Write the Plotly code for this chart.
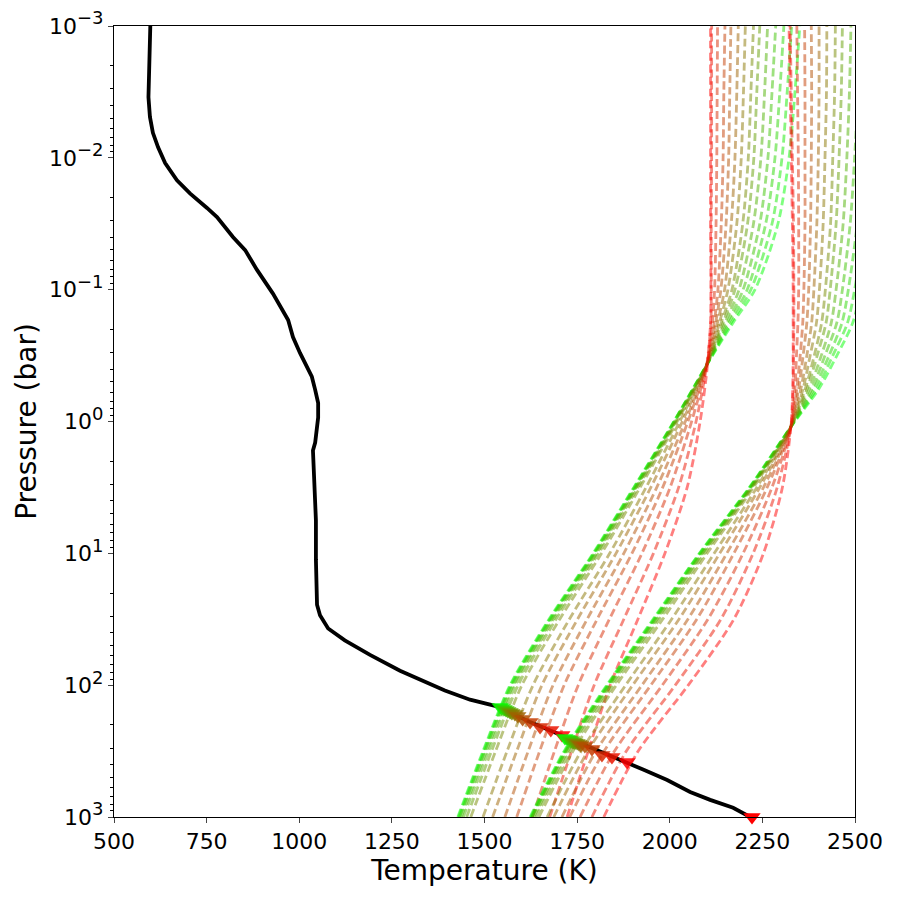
import numpy as np
import plotly.graph_objects as go

# black T-P profile: temperature (K) and log10 pressure (bar)
t_profile = [598, 595, 593, 597, 605, 619, 638, 670, 705, 751, 778, 821, 854, 886,
             929, 970, 983, 1002, 1034, 1043, 1051, 1051, 1043, 1037, 1040, 1045,
             1045, 1048, 1056, 1078, 1123, 1191, 1272, 1326, 1393, 1461, 1542, 1623,
             1709, 1790, 1885, 1928, 1993, 2055, 2109, 2171, 2217]
log_p_profile = [-3.0, -2.75, -2.46, -2.31, -2.19, -2.08, -1.96, -1.83, -1.73, -1.62,
                 -1.55, -1.40, -1.30, -1.15, -0.97, -0.77, -0.64, -0.52, -0.34, -0.24,
                 -0.14, -0.03, 0.16, 0.22, 0.44, 0.75, 1.05, 1.39, 1.47, 1.57, 1.66,
                 1.77, 1.89, 1.96, 2.04, 2.11, 2.166, 2.28, 2.38, 2.48, 2.59, 2.64,
                 2.72, 2.81, 2.87, 2.93, 3.0]

# first family of dashed curves (green -> red), one row per curve
log_p_family1 = [-3, -2.5, -2, -1.5, -1, -0.75, -0.43, 0, 0.5, 1, 1.5, 2, 2.5, 3]
t_family1 = [
    [2351, 2338, 2322, 2292, 2230, 2171, 2100, 2011, 1903, 1793, 1674, 1569, 1496, 1428],
    [2329, 2317, 2303, 2276, 2219, 2166, 2100, 2012, 1904, 1795, 1676, 1571, 1498, 1430],
    [2308, 2297, 2284, 2259, 2209, 2160, 2100, 2012, 1906, 1796, 1678, 1574, 1501, 1433],
    [2286, 2276, 2265, 2243, 2198, 2155, 2100, 2013, 1908, 1799, 1682, 1578, 1505, 1437],
    [2264, 2256, 2246, 2226, 2187, 2149, 2100, 2015, 1910, 1803, 1686, 1583, 1511, 1443],
    [2243, 2235, 2227, 2210, 2176, 2144, 2100, 2017, 1914, 1808, 1693, 1591, 1519, 1452],
    [2226, 2219, 2212, 2197, 2168, 2139, 2100, 2020, 1920, 1816, 1703, 1601, 1530, 1463],
    [2204, 2199, 2193, 2181, 2157, 2134, 2100, 2027, 1936, 1838, 1729, 1631, 1561, 1496],
    [2185, 2181, 2176, 2166, 2148, 2129, 2100, 2034, 1949, 1855, 1751, 1655, 1587, 1522],
    [2165, 2162, 2159, 2152, 2138, 2124, 2100, 2042, 1965, 1876, 1777, 1685, 1618, 1555],
    [2149, 2146, 2144, 2139, 2130, 2120, 2100, 2049, 1981, 1898, 1804, 1715, 1649, 1587],
    [2129, 2128, 2127, 2125, 2121, 2115, 2100, 2059, 2001, 1925, 1837, 1753, 1689, 1629],
    [2113, 2113, 2113, 2112, 2112, 2111, 2100, 2071, 2024, 1956, 1876, 1796, 1735, 1676],
    [2110, 2110, 2110, 2110, 2111, 2110, 2102, 2082, 2047, 1987, 1914, 1839, 1780, 1723],
]

# second family of dashed curves
log_p_family2 = [-3, -2.5, -2, -1.5, -1, -0.75, -0.5, -0.25, 0.04, 0.5, 1, 1.5, 2, 2.5, 3]
t_family2 = [
    [2583, 2575, 2562, 2545, 2515, 2494, 2451, 2403, 2327, 2215, 2080, 1955, 1830, 1715, 1623],
    [2560, 2553, 2541, 2526, 2499, 2480, 2440, 2397, 2327, 2216, 2081, 1957, 1832, 1717, 1625],
    [2536, 2530, 2520, 2506, 2482, 2465, 2430, 2390, 2327, 2217, 2083, 1959, 1834, 1719, 1627],
    [2513, 2508, 2499, 2487, 2466, 2451, 2419, 2384, 2327, 2218, 2086, 1962, 1837, 1721, 1629],
    [2489, 2485, 2478, 2468, 2449, 2436, 2409, 2377, 2327, 2220, 2089, 1966, 1841, 1725, 1633],
    [2466, 2463, 2457, 2449, 2433, 2422, 2398, 2371, 2327, 2222, 2094, 1972, 1848, 1731, 1639],
    [2447, 2445, 2440, 2434, 2420, 2410, 2390, 2366, 2327, 2226, 2101, 1981, 1856, 1739, 1647],
    [2424, 2423, 2419, 2414, 2404, 2396, 2379, 2360, 2327, 2235, 2120, 2005, 1881, 1761, 1669],
    [2403, 2403, 2401, 2397, 2389, 2383, 2370, 2354, 2327, 2243, 2135, 2025, 1900, 1779, 1687],
    [2382, 2383, 2382, 2380, 2375, 2370, 2360, 2348, 2327, 2253, 2154, 2049, 1925, 1801, 1709],
    [2364, 2365, 2365, 2365, 2362, 2359, 2352, 2343, 2327, 2263, 2173, 2073, 1949, 1823, 1730],
    [2343, 2345, 2347, 2348, 2348, 2346, 2342, 2338, 2327, 2276, 2198, 2103, 1980, 1851, 1758],
    [2325, 2328, 2331, 2334, 2335, 2335, 2334, 2333, 2327, 2290, 2225, 2138, 2015, 1883, 1790],
    [2322, 2325, 2328, 2331, 2333, 2333, 2333, 2332, 2327, 2304, 2253, 2173, 2050, 1915, 1822],
]

# crossing points of each curve with the profile
t_markers1 = [1542, 1547, 1553, 1558, 1563, 1569, 1574, 1582, 1590, 1603, 1623, 1650, 1679, 1709]
log_p_markers1 = [2.166, 2.173, 2.181, 2.188, 2.196, 2.204, 2.211, 2.219, 2.234, 2.257,
                  2.280, 2.318, 2.340, 2.378]
t_markers2 = [1717, 1723, 1728, 1733, 1739, 1744, 1750, 1755, 1760, 1771, 1790, 1817, 1844, 1885]
log_p_markers2 = [2.401, 2.409, 2.416, 2.424, 2.431, 2.435, 2.439, 2.447, 2.454, 2.462,
                  2.485, 2.530, 2.545, 2.583]
t_bottom_marker = [2222]
log_p_bottom_marker = [3.0]

x_ticks = [500, 750, 1000, 1250, 1500, 1750, 2000, 2250, 2500]
y_ticks = [1e-3, 1e-2, 1e-1, 1e0, 1e1, 1e2, 1e3]
y_exponents = ["−3", "−2", "−1", "0", "1", "2", "3"]
y_tick_text = [f"10<sup><span style='font-size:18px'>{e}</span></sup>" for e in y_exponents]


def green_to_red(i, n, alpha):
    s = i / (n - 1)
    return f"rgba({round(255 * s)},{round(255 * (1 - s))},0,{alpha})"


fig = go.Figure()

# curves are drawn from the deep end upwards so the dash phase drifts between them
for log_p, rows in ((log_p_family1, t_family1), (log_p_family2, t_family2)):
    p = 10.0 ** np.array(log_p[::-1])
    for i, t in enumerate(rows):
        fig.add_trace(go.Scatter(
            x=t[::-1], y=p, mode="lines", hoverinfo="skip", showlegend=False,
            line=dict(color=green_to_red(i, len(rows), 0.5), width=2.8,
                      dash="8px,4px", shape="spline", smoothing=0.8)))

fig.add_trace(go.Scatter(
    x=t_profile, y=10.0 ** np.array(log_p_profile), mode="lines",
    line=dict(color="black", width=3.8), showlegend=False))

for t, log_p in ((t_markers1, log_p_markers1), (t_markers2, log_p_markers2)):
    colors = [green_to_red(i, len(t), 0.85) for i in range(len(t))]
    fig.add_trace(go.Scatter(
        x=t, y=10.0 ** np.array(log_p), mode="markers", showlegend=False,
        marker=dict(symbol="triangle-down", size=15, color=colors, line_width=0)))

fig.add_trace(go.Scatter(
    x=t_bottom_marker, y=10.0 ** np.array(log_p_bottom_marker), mode="markers",
    showlegend=False, cliponaxis=False,
    marker=dict(symbol="triangle-down", size=15, color="red", line_width=0)))

minor_vals = [k * 10.0 ** e for e in range(-3, 3) for k in range(2, 10)]

# the page body adds 8px on the left and top, so the margins are shifted by that much
fig.update_layout(
    width=900, height=900,
    margin=dict(l=106, r=53, t=18, b=91, autoexpand=False),
    plot_bgcolor="white", paper_bgcolor="white",
    font=dict(family="DejaVu Sans", color="black", size=22),
)
fig.update_xaxes(
    range=[500, 2500], tickvals=x_ticks, ticks="outside", ticklen=5, tickwidth=1.1,
    showline=True, linecolor="black", linewidth=1.1, mirror=True,
    showgrid=False, zeroline=False, tickfont=dict(size=22),
    ticklabeloverflow="allow",
    title=dict(text="Temperature (K)", font=dict(size=28), standoff=6),
)
fig.update_yaxes(
    type="log", range=[3, -3], tickvals=y_ticks, ticktext=y_tick_text,
    ticks="outside", ticklen=5, tickwidth=1.1,
    showline=True, linecolor="black", linewidth=1.1, mirror=True,
    showgrid=False, zeroline=False, tickfont=dict(size=22),
    ticklabeloverflow="allow",
    minor=dict(tickvals=minor_vals, ticks="outside", ticklen=3, tickwidth=0.8,
               tickcolor="black", showgrid=False),
    title=dict(text="Pressure (bar)", font=dict(size=28), standoff=4),
)

fig.write_html("out.html")
